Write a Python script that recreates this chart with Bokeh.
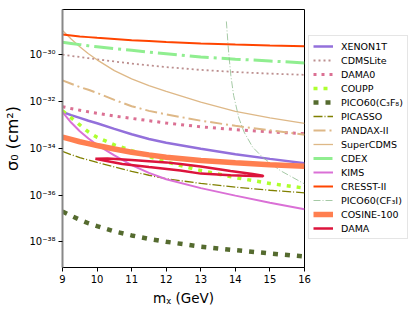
from bokeh.plotting import figure
from bokeh.models import Legend, LegendItem, CustomJSTickFormatter, FixedTicker
from bokeh.embed import file_html
from bokeh.resources import INLINE

# ---- data (log10 of sigma_0 in cm^2) ----
mass = [9.0, 9.25, 9.5, 9.75, 10.0, 10.5, 11.0, 11.5, 12.0, 13.0, 14.0, 15.0, 16.0]

xenon1t_log = [-32.45, -32.58, -32.70, -32.82, -32.93, -33.17, -33.40, -33.60, -33.76, -34.02, -34.25, -34.45, -34.64]
cdmslite_log = [-30.00, -30.05, -30.10, -30.15, -30.20, -30.29, -30.38, -30.46, -30.53, -30.65, -30.74, -30.81, -30.86]
dama0_log = [-32.22, -32.30, -32.37, -32.44, -32.50, -32.62, -32.72, -32.82, -32.92, -33.08, -33.20, -33.30, -33.37]
coupp_log = [-32.40, -32.70, -33.00, -33.30, -33.53, -33.85, -34.10, -34.35, -34.58, -34.95, -35.25, -35.50, -35.70]
pico60_c3f8_log = [-36.70, -36.88, -37.05, -37.20, -37.32, -37.55, -37.72, -37.87, -37.99, -38.20, -38.35, -38.49, -38.62]
picasso_log = [-34.13, -34.27, -34.40, -34.50, -34.60, -34.79, -34.98, -35.15, -35.30, -35.50, -35.66, -35.79, -35.90]
pandax_log = [-31.10, -31.24, -31.38, -31.50, -31.63, -31.93, -32.20, -32.40, -32.55, -32.82, -33.04, -33.23, -33.42]
supercdms_log = [-28.97, -29.33, -29.66, -29.96, -30.22, -30.68, -31.03, -31.32, -31.57, -32.03, -32.42, -32.70, -32.93]
cdex_log = [-29.47, -29.52, -29.57, -29.62, -29.66, -29.74, -29.81, -29.89, -29.96, -30.10, -30.19, -30.27, -30.35]
kims_log = [-32.45, -32.90, -33.27, -33.58, -33.85, -34.30, -34.72, -35.05, -35.32, -35.70, -36.02, -36.32, -36.60]
cresst_log = [-29.14, -29.18, -29.22, -29.25, -29.28, -29.33, -29.38, -29.42, -29.46, -29.52, -29.57, -29.61, -29.64]
cosine_log = [-33.52, -33.62, -33.72, -33.80, -33.88, -34.03, -34.17, -34.28, -34.38, -34.52, -34.62, -34.70, -34.77]

pico60_cf3i_mass = [13.74, 13.80, 13.87, 13.95, 14.10, 14.25, 14.50, 14.80, 15.30, 16.00]
pico60_cf3i_log = [-28.58, -29.80, -30.90, -31.74, -32.70, -33.30, -33.95, -34.40, -34.95, -35.52]

dama_mass = [9.95, 10.3, 11.0, 12.0, 12.41, 13.0, 13.86, 14.5, 14.8,
             14.8, 14.3, 13.86, 13.0, 12.41, 11.5, 10.73, 10.2, 9.95]
dama_log = [-34.45, -34.43, -34.50, -34.60, -34.67, -34.78, -34.97, -35.10, -35.17,
            -35.19, -35.17, -35.15, -35.08, -34.95, -34.80, -34.67, -34.52, -34.45]

y_tick_exponents = [-38, -36, -34, -32, -30]
x_ticks = [9, 10, 11, 12, 13, 14, 15, 16]


def to_sigma(logs):
    return [10.0 ** v for v in logs]


FONT = "DejaVu Sans"

p = figure(frame_width=242, frame_height=258,
           min_border_left=54, min_border_right=0, min_border_top=9, min_border_bottom=36,
           x_range=(9, 16), y_range=(10 ** -39.09, 10 ** -28.07), y_axis_type="log",
           output_backend="svg", toolbar_location=None)

p.xgrid.visible = False
p.ygrid.visible = False
p.outline_line_color = "black"
p.outline_line_width = 1

p.xaxis.ticker = FixedTicker(ticks=x_ticks)
p.yaxis.ticker = FixedTicker(ticks=[10.0 ** e for e in y_tick_exponents])
p.yaxis.formatter = CustomJSTickFormatter(code="""
const sup = {'-':'\u207b','0':'\u2070','1':'\u00b9','2':'\u00b2','3':'\u00b3','4':'\u2074',
             '5':'\u2075','6':'\u2076','7':'\u2077','8':'\u2078','9':'\u2079'};
const e = Math.round(Math.log10(tick));
return '10' + String(e).split('').map(c => sup[c]).join('');
""")
for ax in (p.xaxis[0], p.yaxis[0]):
    ax.major_tick_in = 0
    ax.major_tick_out = 4
    ax.minor_tick_in = 0
    ax.minor_tick_out = 0
    ax.major_label_text_font = FONT
    ax.major_label_text_font_size = "10px"
    ax.major_label_text_color = "black"
    ax.axis_label_text_font = FONT
    ax.axis_label_text_font_style = "normal"
    ax.axis_label_text_color = "black"
    ax.major_label_standoff = 3
p.xaxis.axis_label_text_font_size = "13.5px"
p.yaxis.axis_label_text_font_size = "16px"
p.yaxis.axis_line_color = "#888888"
p.yaxis.axis_line_width = 2
p.xaxis.axis_label = "m\u1d6a (GeV)"
p.yaxis.axis_label = "\u03c3\u2080 (cm\u00b2)"
p.xaxis.axis_label_standoff = 4
p.yaxis.axis_label_standoff = 4

series = [
    ("XENON1T", mass, xenon1t_log, dict(line_color="mediumpurple", line_width=2.5)),
    ("CDMSLite", mass, cdmslite_log, dict(line_color="rosybrown", line_width=1.8, line_dash="2 3")),
    ("DAMA0", mass, dama0_log, dict(line_color="palevioletred", line_width=3, line_dash="3 5")),
    ("COUPP", mass, coupp_log, dict(line_color="greenyellow", line_width=3.5, line_dash="4 6")),
    ("PICO60(C\u2083F\u2088)", mass, pico60_c3f8_log, dict(line_color="darkolivegreen", line_width=4.5, line_dash="5 7")),
    ("PICASSO", mass, picasso_log, dict(line_color="olive", line_width=1.3, line_dash="9 2 1 2")),
    ("PANDAX-II", mass, pandax_log, dict(line_color="burlywood", line_width=2, line_dash="12 4 2 4")),
    ("SuperCDMS", mass, supercdms_log, dict(line_color="burlywood", line_width=1.3)),
    ("CDEX", mass, cdex_log, dict(line_color="lightgreen", line_width=3, line_dash="19 5 3 5")),
    ("KIMS", mass, kims_log, dict(line_color="orchid", line_width=2)),
    ("CRESST-II", mass, cresst_log, dict(line_color="orangered", line_width=2)),
    ("PICO60(CF\u2083I)", pico60_cf3i_mass, pico60_cf3i_log, dict(line_color="darkseagreen", line_width=1, line_dash="7 2 1 2", line_alpha=0.8)),
    ("COSINE-100", mass, cosine_log, dict(line_color="coral", line_width=5.5)),
    ("DAMA", dama_mass, dama_log, dict(line_color="crimson", line_width=2.5)),
]

items = []
for label, xs, logs, style in series:
    r = p.line(xs, to_sigma(logs), **style)
    items.append(LegendItem(label=label, renderers=[r]))

legend = Legend(items=items, location=(4, 28))
legend.label_text_font = FONT
legend.label_text_font_size = "9.5px"
legend.label_text_color = "black"
legend.label_height = 12
legend.glyph_height = 12
legend.glyph_width = 20
legend.label_standoff = 8
legend.spacing = 2
legend.padding = 4
legend.margin = 4
legend.border_line_color = "#cccccc"
legend.border_line_width = 1
legend.background_fill_alpha = 0.8
p.add_layout(legend, "right")

open("out.html", "w").write(file_html(p, INLINE))
